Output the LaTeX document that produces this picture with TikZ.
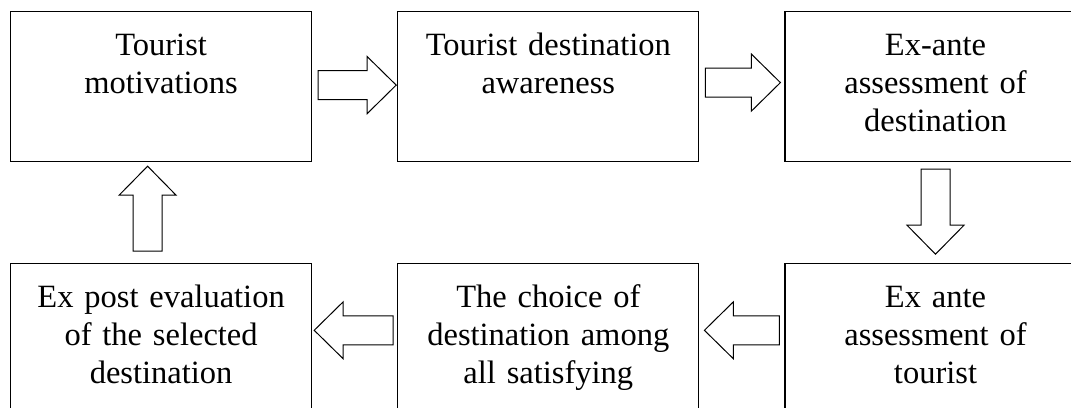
\documentclass[tikz,border=0pt]{standalone}
\usepackage{fontspec}
\setmainfont{Liberation Serif}
\usepackage{tikz}
\usetikzlibrary{positioning,calc}

\begin{document}
\begin{tikzpicture}[
  node distance=101pt and 85pt,
  box/.style={
    draw,line width=1.2pt,minimum width=301pt,inner sep=0pt,
    text width=290pt,align=center,text height=44pt,text depth=106pt,
    font=\fontsize{32.5}{38}\selectfont
  },
  blockarr/.style={
    draw,line width=1pt,
    to path={
      ($(\tikztotarget)!29pt!(\tikztostart)$) coordinate (bh)
      ($(\tikztostart)!14.5pt!90:(\tikztotarget)$)
      -- ($(bh)!14.5pt!90:(\tikztotarget)$)
      -- ($(bh)!28.5pt!90:(\tikztotarget)$)
      -- (\tikztotarget)
      -- ($(bh)!28.5pt!-90:(\tikztotarget)$)
      -- ($(bh)!14.5pt!-90:(\tikztotarget)$)
      -- ($(\tikztostart)!14.5pt!-90:(\tikztotarget)$) -- cycle}
  }
]
  \useasboundingbox (0,0) rectangle (1071pt,-407pt);
  \node[box,anchor=north west] (motiv) at (10pt,-11pt)
    {Tourist\\motivations};
  \node[box,right=of motiv] (aware)
    {Tourist destination\\awareness};
  \node[box,right=of aware] (assess)
    {Ex-ante\\assessment of\\destination};
  \node[box,below=of motiv] (expost)
    {Ex post evaluation\\of the selected\\destination};
  \node[box,below=of aware] (choice)
    {The choice of\\destination among\\all satisfying};
  \node[box,below=of assess] (exante)
    {Ex ante\\assessment of\\tourist};
  \draw[blockarr] ([xshift=6pt,yshift=1.5pt]motiv.east) to ([xshift=-1pt,yshift=1.5pt]aware.west);
  \draw[blockarr] ([xshift=6pt,yshift=4pt]aware.east) to ([xshift=-4pt,yshift=4pt]assess.west);
  \draw[blockarr] ([yshift=-7pt]assess.south) to ([yshift=9pt]exante.north);
  \draw[blockarr] ([xshift=-5pt,yshift=8.5pt]exante.west) to ([xshift=5pt,yshift=8.5pt]choice.east);
  \draw[blockarr] ([xshift=-4pt,yshift=8.5pt]choice.west) to ([xshift=2pt,yshift=8.5pt]expost.east);
  \draw[blockarr] ([xshift=-13.5pt,yshift=12pt]expost.north) to ([xshift=-13.5pt,yshift=-4pt]motiv.south);
\end{tikzpicture}
\end{document}
